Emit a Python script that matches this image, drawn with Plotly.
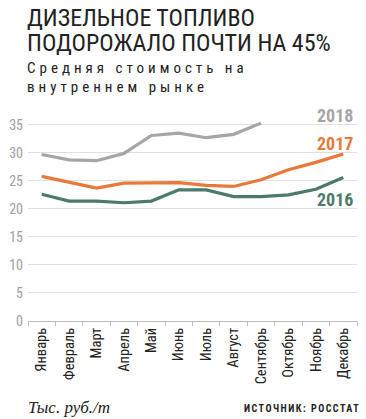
import plotly.graph_objects as go

months = ["Январь", "Февраль", "Март", "Апрель", "Май", "Июнь", "Июль",
          "Август", "Сентябрь", "Октябрь", "Ноябрь", "Декабрь"]
y2016 = [22.6, 21.4, 21.4, 21.1, 21.4, 23.4, 23.4, 22.2, 22.2, 22.5, 23.5, 25.6]
y2017 = [25.8, 24.8, 23.7, 24.6, 24.6, 24.7, 24.2, 24.0, 25.2, 27.0, 28.3, 29.8]
y2018 = [29.7, 28.75, 28.6, 29.9, 33.1, 33.5, 32.7, 33.3, 35.3]
y_ticks = [0, 5, 10, 15, 20, 25, 30, 35]

C16 = "#4c7b6b"
C17 = "#e8793a"
C18 = "#a6a6a6"
COND = "Liberation Sans Narrow, Roboto Condensed, Arial Narrow, Roboto, sans-serif"

L, T, W, H = 25, 108, 332, 213


def px(x):
    return (x - L) / W


def py(y):
    return (T + H - y) / H


fig = go.Figure()
for name, ys, col in [("2016", y2016, C16), ("2017", y2017, C17), ("2018", y2018, C18)]:
    fig.add_trace(go.Scatter(x=months[:len(ys)], y=ys, mode="lines", name=name,
                             line=dict(color=col, width=3.2), hoverinfo="skip"))

fig.update_layout(
    width=366, height=419,
    margin=dict(l=L, r=366 - L - W, t=T, b=419 - T - H),
    paper_bgcolor="white", plot_bgcolor="white",
    showlegend=False,
    xaxis=dict(type="category", range=[-0.5, 11.5], tickson="boundaries",
               ticks="outside", ticklen=4, tickcolor="#bbbbbb",
               showline=True, linecolor="#bbbbbb", linewidth=1,
               showgrid=False, tickangle=-90,
               tickfont=dict(family=COND, size=14.5, color="#222222")),
    yaxis=dict(range=[0, 38], tickvals=y_ticks, showgrid=True, gridcolor="#e0e0e0",
               gridwidth=1, zeroline=False, ticks="", ticklabelstandoff=4,
               tickfont=dict(family=COND, size=14, color="#a0a0a0")),
)


def note(text, x, y, size, color, family, xanchor="left", yanchor="middle"):
    fig.add_annotation(text=text, xref="paper", yref="paper", x=px(x), y=py(y),
                       xanchor=xanchor, yanchor=yanchor, showarrow=False, align="left",
                       font=dict(family=family, size=size, color=color))


note("ДИЗЕЛЬНОЕ ТОПЛИВО<br>ПОДОРОЖАЛО ПОЧТИ НА 45%", 22, 2, 24, "#222222", COND,
     yanchor="top")
note("Средняя стоимость на<br>внутреннем рынке", 22, 57, 15, "#222222", COND,
     yanchor="top")
note("<i>Тыс. руб./т</i>", 23, 407, 17, "#222222", "Liberation Serif, serif")
note("<b>ИСТОЧНИК: РОССТАТ</b>", 241, 408, 10, "#222222", COND)

for name, col, yy in [("2018", C18, 115), ("2017", C17, 143), ("2016", C16, 199)]:
    note("<b>" + name + "</b>", 355, yy, 18, col, COND, xanchor="right")

post = """
document.body.style.margin = '0';
document.body.style.overflow = 'hidden';
document.querySelectorAll('g.annotation text').forEach(function (t) {
  var s = t.textContent;
  var lines = t.querySelectorAll('tspan.line');
  if (s.indexOf('ДИЗЕЛЬНОЕ') >= 0 && lines.length > 1) {
    lines[1].setAttribute('dy', '25px');
  }
  if (s.indexOf('Средняя') >= 0) {
    t.style.letterSpacing = '4px';
    if (lines.length > 1) { lines[1].setAttribute('dy', '18.5px'); }
  }
  if (s.indexOf('ИСТОЧНИК') >= 0) { t.style.letterSpacing = '1.5px'; }
});
"""

fig.write_html("out.html", post_script=post, config={"displayModeBar": False})
